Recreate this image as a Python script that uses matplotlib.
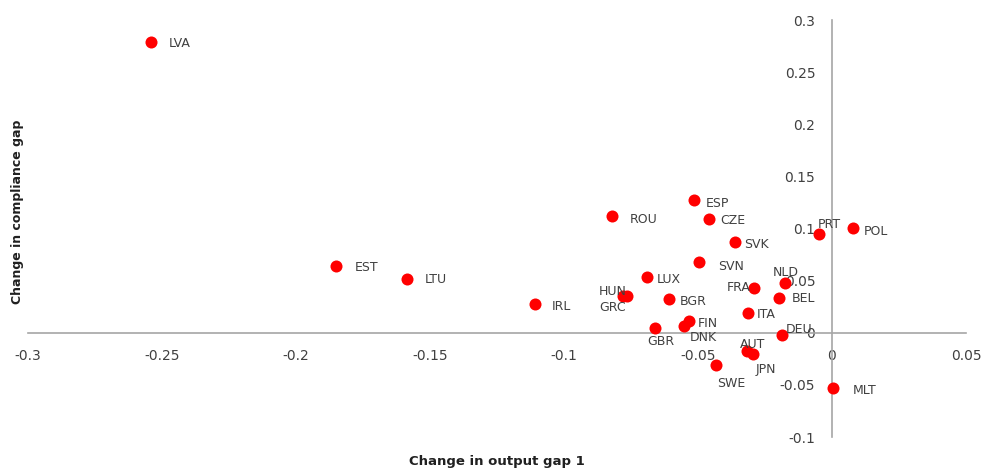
import matplotlib
matplotlib.use("Agg")
import matplotlib.pyplot as plt

# datos
paises = ["LVA", "EST", "LTU", "IRL", "ROU", "ESP", "CZE", "SVK", "SVN", "LUX",
          "HUN", "GRC", "BGR", "FRA", "NLD", "BEL", "ITA", "FIN", "DNK", "GBR",
          "DEU", "AUT", "JPN", "SWE", "MLT", "PRT", "POL"]
brecha_producto = [-0.254, -0.185, -0.1586, -0.1108, -0.082, -0.0515, -0.0459, -0.0363,
                   -0.0495, -0.0692, -0.0779, -0.0764, -0.0608, -0.0292, -0.0174,
                   -0.0197, -0.0314, -0.0532, -0.0552, -0.0662, -0.0185, -0.0318,
                   -0.0293, -0.0432, 0.0005, -0.005, 0.008]
brecha_cumplimiento = [0.279, 0.064, 0.052, 0.028, 0.112, 0.127, 0.109, 0.0869, 0.0677,
                       0.0533, 0.0348, 0.0354, 0.0323, 0.0431, 0.0479, 0.0338, 0.0192,
                       0.0112, 0.0064, 0.0041, -0.0022, -0.0179, -0.0204, -0.031,
                       -0.053, 0.0945, 0.1003]
ticks_x = [-0.3, -0.25, -0.2, -0.15, -0.1, -0.05, 0, 0.05]
ticks_y = [-0.1, -0.05, 0, 0.05, 0.1, 0.15, 0.2, 0.25, 0.3]

# colocacion de cada etiqueta: (dx, dy) en pixeles y alineacion horizontal
desplazamiento = {
    "LVA": (17, -2, "left"), "EST": (19, -1, "left"), "LTU": (18, -1, "left"),
    "IRL": (17, -3, "left"), "ROU": (18, -3, "left"), "ESP": (12, -3, "left"),
    "CZE": (11, -1, "left"), "SVK": (9, -2, "left"), "SVN": (19, -4, "left"),
    "LUX": (10, -2, "left"), "HUN": (3, 5, "right"), "GRC": (-1, -12, "right"),
    "BGR": (11, -2, "left"), "FRA": (-3, 0, "right"), "NLD": (0, 10, "center"),
    "BEL": (13, -1, "left"), "ITA": (9, -2, "left"), "FIN": (8, -2, "left"),
    "DNK": (6, -11, "left"), "GBR": (6, -13, "center"), "DEU": (3, 6, "left"),
    "AUT": (-7, 7, "left"), "JPN": (2, -15, "left"), "SWE": (1, -18, "left"),
    "MLT": (19, -2, "left"), "PRT": (-1, 10, "left"), "POL": (10, -3, "left"),
}

gris_texto = "#404040"
gris_eje = "#a6a6a6"

fig = plt.figure(figsize=(9.83, 4.69), dpi=100)
ax = fig.add_axes([0.0285, 0.0682, 0.9542, 0.8891])

ax.scatter(brecha_producto, brecha_cumplimiento, s=75, color="#ff0000", zorder=3, linewidths=0)

for nombre, x, y in zip(paises, brecha_producto, brecha_cumplimiento):
    dx, dy, ha = desplazamiento[nombre]
    ax.annotate(nombre, (x, y), xytext=(dx, dy), textcoords="offset pixels",
                ha=ha, va="center", fontsize=9, color=gris_texto, zorder=4)

ax.set_xlim(-0.3, 0.05)
ax.set_ylim(-0.1, 0.3)
ax.set_xticks(ticks_x)
ax.set_yticks(ticks_y)
ax.set_xticklabels([f"{v:g}" for v in ticks_x])
ax.set_yticklabels([f"{v:g}" for v in ticks_y])

ax.spines["left"].set_position(("data", 0))
ax.spines["bottom"].set_position(("data", 0))
ax.spines["top"].set_visible(False)
ax.spines["right"].set_visible(False)
for lado in ["left", "bottom"]:
    ax.spines[lado].set_color(gris_eje)
    ax.spines[lado].set_linewidth(1.2)
ax.tick_params(length=0, labelsize=10, labelcolor=gris_texto)
ax.tick_params(axis="x", pad=12)
ax.tick_params(axis="y", pad=12)
ax.patch.set_visible(False)

fig.text(0.505, 0.017, "Change in output gap 1", ha="center", va="center",
         fontsize=9.5, fontweight="bold", color="#202020")
fig.text(0.018, 0.548, "Change in compliance gap", ha="center", va="center",
         rotation=90, fontsize=9, fontweight="bold", color="#202020")

fig.savefig("out.png", dpi=100)
